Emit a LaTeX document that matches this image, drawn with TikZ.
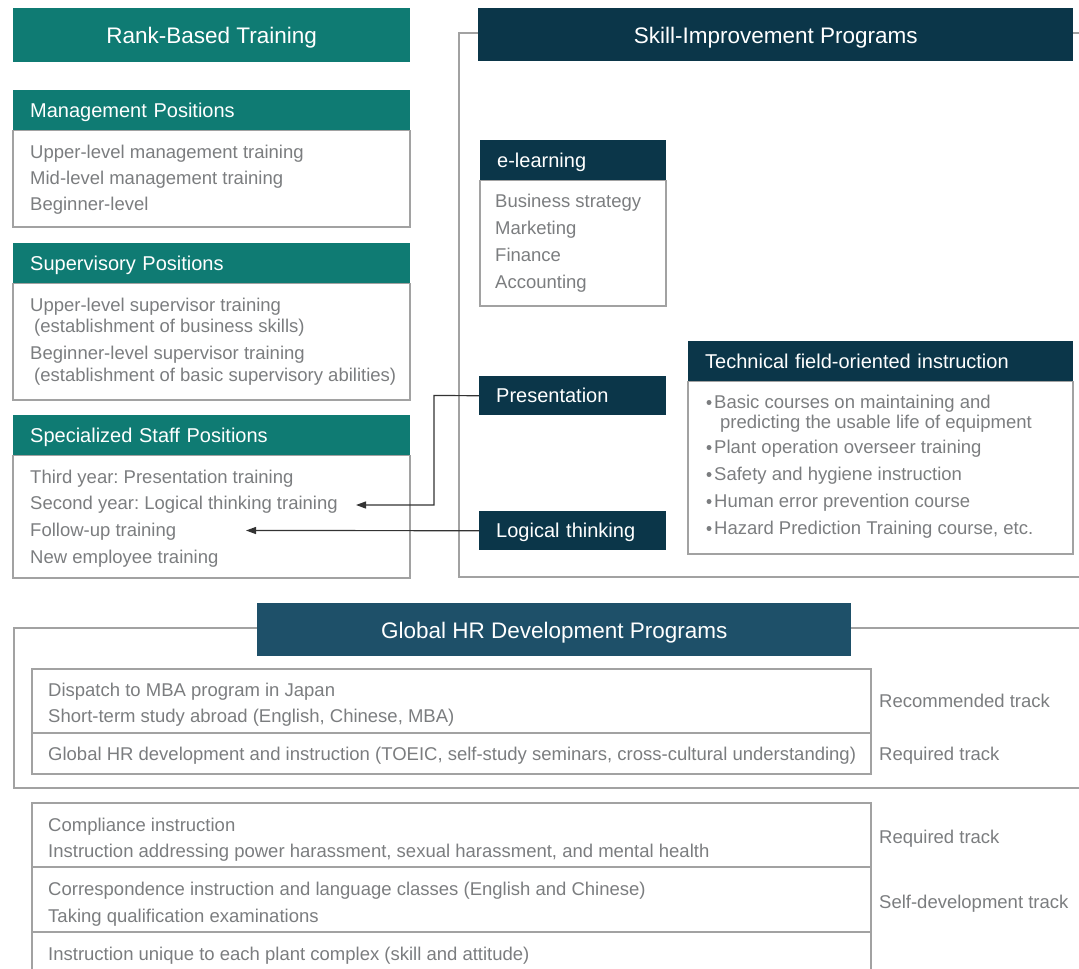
\documentclass[tikz,border=0pt]{standalone}
\usepackage{fontspec}
\setmainfont{Liberation Sans}
\usetikzlibrary{arrows.meta}
\frenchspacing

\definecolor{rankteal}{HTML}{0F7B73}
\definecolor{skillnavy}{HTML}{0B3649}
\definecolor{globalblue}{HTML}{1E5069}
\definecolor{bodygray}{HTML}{7B7D7F}
\definecolor{framegray}{HTML}{A2A2A2}

\tikzset{
  headbar/.style={anchor=north west, inner sep=0pt, text=white, font=\fontsize{22.5}{26}\selectfont, text height=17pt, text depth=0pt},
  subbar/.style={anchor=north west, inner ysep=0pt, inner xsep=17pt, minimum height=40pt, text=white, align=left, font=\fontsize{20}{24}\selectfont, text height=14.5pt, text depth=0pt},
  item/.style={anchor=base west, inner sep=0pt, text=bodygray, font=\fontsize{18.5}{22}\selectfont},
  frame/.style={draw=framegray, line width=1.2pt},
  arr/.style={-{Triangle[length=10pt,width=7pt]}, line width=1.2pt, draw=black!80},
}

\begin{document}
\begin{tikzpicture}[x=1pt,y=1pt,yscale=-1,xscale=1]
\useasboundingbox (0,0) rectangle (1079,969);

%Shape: Frame of the skill programs
\draw[frame] (1079,33) -- (459,33) -- (459,577) -- (1079,577);
%Shape: Frame of the global programs
\draw[frame] (1079,628) -- (14,628) -- (14,788) -- (1079,788);

%Shape: Rank-Based Training
\node[headbar, fill=rankteal, minimum width=397pt, minimum height=54pt] (rankhead) at (13,8) {Rank-Based Training};

%Shape: Management Positions
\node[subbar, fill=rankteal, text width=363pt] (mgmthead) at (13,90) {Management Positions};
\draw[frame] (mgmthead.south west) rectangle (410,227);
% Text Node
\node[item] (mg1) at (30,158) {Upper-level management training};
\node[item] (mg2) at (30,184) {Mid-level management training};
\node[item] (mg3) at (30,210) {Beginner-level};

%Shape: Supervisory Positions
\node[subbar, fill=rankteal, text width=363pt] (suphead) at (13,243) {Supervisory Positions};
\draw[frame] (suphead.south west) rectangle (410,400);
% Text Node
\node[item] (sv1) at (30,311) {Upper-level supervisor training};
\node[item] (sv1b) at (34,332) {(establishment of business skills)};
\node[item] (sv2) at (30,359) {Beginner-level supervisor training};
\node[item] (sv2b) at (34,381) {(establishment of basic supervisory abilities)};

%Shape: Specialized Staff Positions
\node[subbar, fill=rankteal, text width=363pt] (staffhead) at (13,415) {Specialized Staff Positions};
\draw[frame] (staffhead.south west) rectangle (410,578);
% Text Node
\node[item] (sp1) at (30,483) {Third year: Presentation training};
\node[item] (sp2) at (30,509) {Second year: Logical thinking training};
\node[item] (sp3) at (30,536) {Follow-up training};
\node[item] (sp4) at (30,563) {New employee training};

%Shape: Skill-Improvement Programs
\node[headbar, fill=skillnavy, minimum width=595pt, minimum height=53pt] (skillhead) at (478,8) {Skill-Improvement Programs};

%Shape: e-learning
\node[subbar, fill=skillnavy, text width=152pt] (elhead) at (480,140) {e-learning};
\draw[frame] (elhead.south west) rectangle (666,306);
% Text Node
\node[item] (el1) at (495,207) {Business strategy};
\node[item] (el2) at (495,234) {Marketing};
\node[item] (el3) at (495,261) {Finance};
\node[item] (el4) at (495,288) {Accounting};

%Shape: Presentation
\node[subbar, fill=skillnavy, text width=153pt, minimum height=39pt] (pres) at (479,376) {Presentation};
%Shape: Logical thinking
\node[subbar, fill=skillnavy, text width=153pt, minimum height=39pt] (logic) at (479,511) {Logical thinking};

%Shape: Technical field-oriented instruction
\node[subbar, fill=skillnavy, text width=351pt] (techhead) at (688,341) {Technical field-oriented instruction};
\draw[frame] (techhead.south west) rectangle (1073,554);
% Text Node
\foreach \yy in {408,453,480,507,534}
  \fill[bodygray] (709,\yy-5.5) circle (2.5pt);
\node[item] (tc1) at (714,408) {Basic courses on maintaining and};
\node[item] (tc1b) at (720,428) {predicting the usable life of equipment};
\node[item] (tc2) at (714,453) {Plant operation overseer training};
\node[item] (tc3) at (714,480) {Safety and hygiene instruction};
\node[item] (tc4) at (714,507) {Human error prevention course};
\node[item] (tc5) at (714,534) {Hazard Prediction Training course, etc.};

%Straight Lines: arrows into the staff training
\coordinate (presend) at (356,505);
\coordinate (logicend) at (246,530.5);
\draw[arr] (pres.west) -- (434,395.5) |- (presend);
\draw[arr] (logic.west) -- (logicend);

%Shape: Global HR Development Programs
\node[headbar, fill=globalblue, minimum width=594pt, minimum height=53pt] (globalhead) at (257,603) {Global HR Development Programs};
\draw[frame] (32,669) rectangle (871,774);
\draw[frame] (32,733) -- (871,733);
% Text Node
\node[item] (gl1) at (48,696) {Dispatch to MBA program in Japan};
\node[item] (gl2) at (48,722) {Short-term study abroad (English, Chinese, MBA)};
\node[item] (gl3) at (48,760) {Global HR development and instruction (TOEIC, self-study seminars, cross-cultural understanding)};
\node[item] (rec) at (879,707) {Recommended track};
\node[item] (req1) at (879,760) {Required track};

%Shape: Other programs
\draw[frame] (32,985) -- (32,803) -- (871,803) -- (871,985);
\draw[frame] (32,867) -- (871,867);
\draw[frame] (32,932) -- (871,932);
% Text Node
\node[item] (ot1) at (48,831) {Compliance instruction};
\node[item] (ot2) at (48,857) {Instruction addressing power harassment, sexual harassment, and mental health};
\node[item] (ot3) at (48,895) {Correspondence instruction and language classes (English and Chinese)};
\node[item] (ot4) at (48,922) {Taking qualification examinations};
\node[item] (ot5) at (48,960) {Instruction unique to each plant complex (skill and attitude)};
\node[item] (req2) at (879,843) {Required track};
\node[item] (selfdev) at (879,908) {Self-development track};

\end{tikzpicture}
\end{document}
